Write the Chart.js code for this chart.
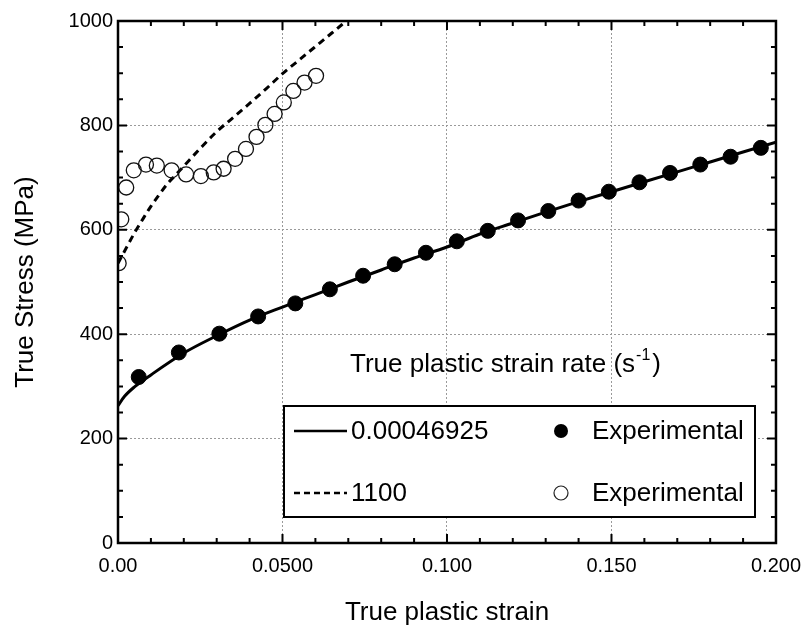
<!DOCTYPE html>
<html>
<head>
<meta charset="utf-8">
<script src="https://cdn.jsdelivr.net/npm/chart.js@4.4.1/dist/chart.umd.min.js"></script>
<style>
  html, body { margin: 0; padding: 0; background: #fff; }
</style>
</head>
<body>
<canvas id="chart" width="812" height="628"></canvas>
<script>
const FONT = 'Arial, "Liberation Sans", sans-serif';

// model curve, strain rate 0.00046925 s^-1
const slowFitX = [0, 0.002, 0.005, 0.01, 0.02, 0.03, 0.04, 0.05, 0.06, 0.07, 0.08, 0.09, 0.10, 0.11, 0.12, 0.13, 0.14, 0.15, 0.16, 0.17, 0.18, 0.19, 0.20];
const slowFitY = [263, 281, 299, 322, 364, 397, 427, 452, 476, 500, 523, 546, 567, 592, 613, 634, 654, 673, 692, 711, 730, 749, 768];

// model curve, strain rate 1100 s^-1
const fastFitX = [0, 0.0025, 0.005, 0.0075, 0.01, 0.0125, 0.015, 0.0175, 0.02, 0.025, 0.03, 0.035, 0.04, 0.045, 0.05, 0.055, 0.06, 0.065, 0.0694];
const fastFitY = [536, 565, 594, 620, 645, 667, 688, 705, 722, 756, 788, 815, 842, 870, 899, 925, 951, 977, 1000];

// experimental, quasi-static
const slowExpX = [0.0063, 0.0185, 0.0308, 0.0426, 0.0539, 0.0644, 0.0745, 0.0841, 0.0936, 0.1030, 0.1124, 0.1216, 0.1308, 0.1400, 0.1492, 0.1585, 0.1678, 0.1770, 0.1862, 0.1954];
const slowExpY = [318, 365, 401, 434, 459, 486, 512, 534, 556, 578, 598, 618, 636, 656, 673, 691, 709, 725, 740, 757];

// experimental, dynamic
const fastExpX = [0.0002, 0.0010, 0.0025, 0.0048, 0.0085, 0.0118, 0.0163, 0.0207, 0.0252, 0.0291, 0.0321, 0.0356, 0.0389, 0.0421, 0.0448, 0.0476, 0.0504, 0.0533, 0.0567, 0.0602];
const fastExpY = [536, 620, 681, 714, 725, 723, 714, 706, 703, 710, 717, 736, 755, 778, 801, 822, 844, 866, 882, 895];

const xTickLabels = ['0.00', '0.0500', '0.100', '0.150', '0.200'];
const yTickLabels = ['0', '200', '400', '600', '800', '1000'];
const legendTitle = 'True plastic strain rate (s';
const legendLines = ['0.00046925', '1100'];
const legendMarks = ['Experimental', 'Experimental'];

const pts = (xs, ys) => xs.map((x, i) => ({ x: x, y: ys[i] }));

// frame with inward major/minor ticks
const framePlugin = {
  id: 'frame',
  afterDatasetsDraw(chart) {
    const { ctx, chartArea: a, scales: { x, y } } = chart;
    ctx.save();
    ctx.strokeStyle = '#000';
    ctx.lineWidth = 2;
    ctx.beginPath();
    for (let i = 0; i <= 20; i++) {
      const px = x.getPixelForValue(i * 0.01);
      const len = i % 5 === 0 ? 9 : 5;
      ctx.moveTo(px, a.bottom); ctx.lineTo(px, a.bottom - len);
      ctx.moveTo(px, a.top); ctx.lineTo(px, a.top + len);
    }
    for (let i = 0; i <= 20; i++) {
      const py = y.getPixelForValue(i * 50);
      const len = i % 4 === 0 ? 9 : 5;
      ctx.moveTo(a.left, py); ctx.lineTo(a.left + len, py);
      ctx.moveTo(a.right, py); ctx.lineTo(a.right - len, py);
    }
    ctx.stroke();
    ctx.lineWidth = 2.5;
    ctx.strokeRect(a.left, a.top, a.right - a.left, a.bottom - a.top);
    ctx.restore();
  }
};

// boxed legend with title above it
const legendPlugin = {
  id: 'boxLegend',
  afterDraw(chart) {
    const { ctx, chartArea: a } = chart;
    ctx.save();
    ctx.fillStyle = '#000';
    ctx.font = '26px ' + FONT;
    ctx.textBaseline = 'alphabetic';
    ctx.textAlign = 'left';
    const tx = a.left + 232, ty = a.top + 351;
    ctx.fillText(legendTitle, tx, ty);
    const w = ctx.measureText(legendTitle).width;
    ctx.font = '16px ' + FONT;
    ctx.fillText('-1', tx + w + 1, ty - 12);
    const w2 = ctx.measureText('-1').width;
    ctx.font = '26px ' + FONT;
    ctx.fillText(')', tx + w + w2 + 3, ty);

    const bx = a.left + 166, by = a.top + 385, bw = 471, bh = 111;
    ctx.fillStyle = '#fff';
    ctx.fillRect(bx, by, bw, bh);
    ctx.strokeStyle = '#000';
    ctx.lineWidth = 2;
    ctx.strokeRect(bx, by, bw, bh);

    const rows = [by + 25, by + 87];
    ctx.textBaseline = 'middle';
    ctx.fillStyle = '#000';
    rows.forEach((ry, i) => {
      ctx.beginPath();
      ctx.lineWidth = 2.5;
      ctx.setLineDash(i === 0 ? [] : [6, 4]);
      ctx.moveTo(bx + 10, ry); ctx.lineTo(bx + 63, ry);
      ctx.stroke();
      ctx.setLineDash([]);
      ctx.fillText(legendLines[i], bx + 67, ry + 1);
      ctx.beginPath();
      ctx.arc(bx + 277, ry, 7, 0, Math.PI * 2);
      if (i === 0) { ctx.fill(); }
      else { ctx.lineWidth = 1.2; ctx.strokeStyle = '#222'; ctx.stroke(); ctx.strokeStyle = '#000'; }
      ctx.fillText(legendMarks[i], bx + 308, ry + 1);
    });
    ctx.restore();
  }
};

new Chart(document.getElementById('chart'), {
  type: 'scatter',
  data: {
    datasets: [
      { label: 'Experimental', data: pts(slowExpX, slowExpY), pointRadius: 7.5, pointBackgroundColor: '#000', pointBorderColor: '#000', showLine: false, order: 0 },
      { label: 'Experimental', data: pts(fastExpX, fastExpY), pointRadius: 7.5, pointBackgroundColor: 'rgba(0,0,0,0)', pointBorderColor: '#111', pointBorderWidth: 1.3, showLine: false, order: 0 },
      { label: '0.00046925', data: pts(slowFitX, slowFitY), showLine: true, borderColor: '#000', borderWidth: 3, pointRadius: 0, cubicInterpolationMode: 'monotone', order: 1 },
      { label: '1100', data: pts(fastFitX, fastFitY), showLine: true, borderColor: '#000', borderWidth: 3, borderDash: [7, 5], pointRadius: 0, cubicInterpolationMode: 'monotone', order: 1 }
    ]
  },
  options: {
    responsive: false,
    animation: false,
    layout: { padding: { left: 0, right: 29, top: 21, bottom: 0 } },
    plugins: { legend: { display: false }, tooltip: { enabled: false } },
    scales: {
      x: {
        type: 'linear', min: 0, max: 0.2,
        afterFit: s => { s.height = 85; },
        ticks: { stepSize: 0.05, padding: 11, color: '#000', font: { family: FONT, size: 20 },
          callback: (v, i) => xTickLabels[i] },
        grid: { color: '#9a9a9a', lineWidth: 1, drawTicks: false },
        border: { display: false, dash: [2, 2] },
        title: { display: true, text: 'True plastic strain', color: '#000', font: { family: FONT, size: 26 }, padding: { top: 0, bottom: 0 } }
      },
      y: {
        type: 'linear', min: 0, max: 1000,
        afterFit: s => { s.width = 118; },
        ticks: { stepSize: 200, padding: 5, color: '#000', font: { family: FONT, size: 20 },
          callback: (v, i) => yTickLabels[i] },
        grid: { color: '#9a9a9a', lineWidth: 1, drawTicks: false },
        border: { display: false, dash: [2, 2] },
        title: { display: true, text: 'True Stress (MPa)', color: '#000', font: { family: FONT, size: 26 }, padding: { top: 10, bottom: 0 } }
      }
    }
  },
  plugins: [framePlugin, legendPlugin]
});
</script>
</body>
</html>
